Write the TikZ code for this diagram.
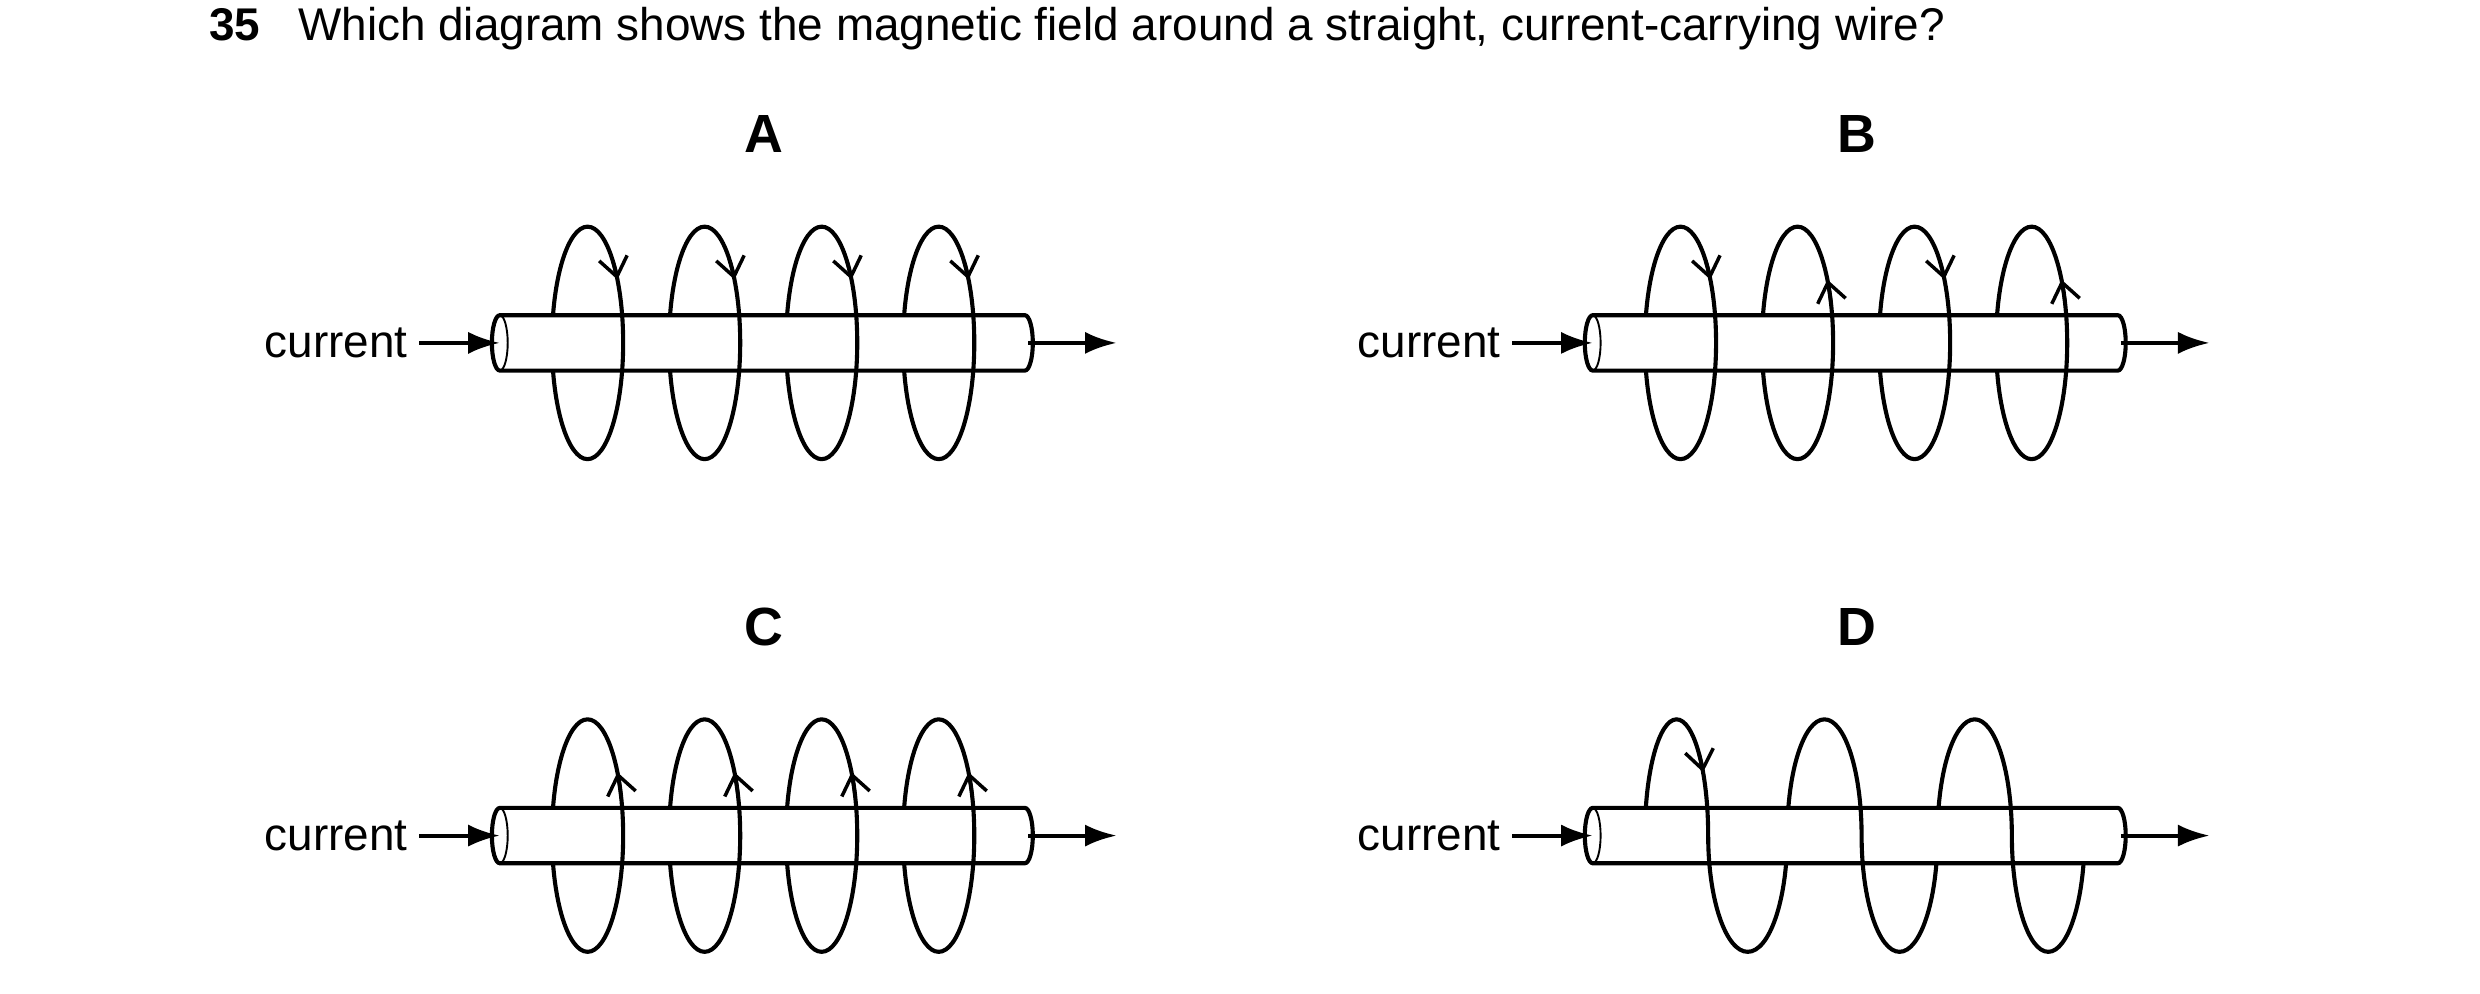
\documentclass[tikz,border=0pt]{standalone}
\usepackage{fontspec}
\setmainfont{Liberation Sans}
\usetikzlibrary{arrows.meta}
\begin{document}
\begin{tikzpicture}[x=0.5pt,y=0.5pt,line width=1.3pt,
  fa/.style={-{Latex[length=10pt,width=7pt]}},
  ba/.style={-{Straight Barb[length=6pt,width=9pt]},line width=1.1pt},
  lbl/.style={font=\fontsize{14.5}{17}\selectfont},
  ttl/.style={font=\bfseries\fontsize{17}{20}\selectfont}]
\useasboundingbox (0,0) rectangle (1568,628.3);
\node[anchor=base west,lbl,inner sep=0] (q) at (131,603) {\textbf{35}\hspace{12pt}Which diagram shows the magnetic field around a straight, current-carrying wire?};
% #1 x0, #2 yc, #3 name, #4 label, #5 arrow dirs (4 entries of 1/-1)
\newcommand\wiredia[5]{%
  \node[ttl] (#3lab) at (#1+167,#2+132) {#4};
  \foreach \d [count=\i from 0] in {#5} {
    \pgfmathsetmacro\cx{#1+55.5+74*\i}
    \draw (\cx,#2) ellipse [x radius=22.5,y radius=73.5];
  }
  \draw[fill=white] (#1,#2+17.5) -- (#1+332,#2+17.5) arc[start angle=90,end angle=-90,x radius=5,y radius=17.5] -- (#1,#2-17.5) arc[start angle=270,end angle=90,x radius=5,y radius=17.5] -- cycle;
  \draw[line width=0.6pt] (#1,#2) ellipse [x radius=5,y radius=17.5];
  \foreach \d [count=\i from 0] in {#5} {
    \pgfmathsetmacro\cx{#1+55.5+74*\i}
    \begin{scope}
      \clip (\cx,#2-18) rectangle (\cx+30,#2+18);
      \draw (\cx,#2) ellipse [x radius=22.5,y radius=73.5];
    \end{scope}
    \pgfmathsetmacro\sa{33+12*\d}
    \draw[ba] (\cx,#2) ++(\sa:22.5 and 73.5) arc[start angle=\sa,end angle=33,x radius=22.5,y radius=73.5];
  }
  \node[lbl,anchor=east,inner sep=0] (#3cur) at (#1-57,#2) {current};
  \coordinate (#3in) at (#1,#2);
  \coordinate (#3a) at (#1-51,#2);
  \coordinate (#3b) at (#1+334,#2);
  \coordinate (#3c) at (#1+390,#2);
  \draw[fa] (#3a) -- (#3in);
  \draw[fa] (#3b) -- (#3c);
}
\wiredia{316}{411.5}{A}{A}{1,1,1,1}
\wiredia{1007}{411.5}{B}{B}{1,-1,1,-1}
\wiredia{316}{100}{C}{C}{-1,-1,-1,-1}
% D
\node[ttl] (Dlab) at (1174,232) {D};
\def\yc{100}
\def\Dpath{(1040,\yc) arc[start angle=180,end angle=0,x radius=20,y radius=73.5]
  arc[start angle=180,end angle=360,x radius=25,y radius=73.5]
  arc[start angle=180,end angle=0,x radius=23.5,y radius=73.5]
  arc[start angle=180,end angle=360,x radius=24,y radius=73.5]
  arc[start angle=180,end angle=0,x radius=23.5,y radius=73.5]
  arc[start angle=180,end angle=360,x radius=23,y radius=73.5]}
\draw \Dpath;
\draw[fill=white] (1007,117.5) -- (1339,117.5) arc[start angle=90,end angle=-90,x radius=5,y radius=17.5] -- (1007,82.5) arc[start angle=270,end angle=90,x radius=5,y radius=17.5] -- cycle;
\draw[line width=0.6pt] (1007,100) ellipse [x radius=5,y radius=17.5];
\begin{scope}
  \clip (1070,82) rectangle (1090,118) (1167,82) rectangle (1187,118) (1262,82) rectangle (1282,118);
  \draw \Dpath;
\end{scope}
\draw[ba] (1060,100) ++(45:20 and 73.5) arc[start angle=45,end angle=33,x radius=20,y radius=73.5];
\node[lbl,anchor=east,inner sep=0] (Dcur) at (950,100) {current};
\coordinate (Din) at (1007,100);
\coordinate (Da) at (956,100);
\coordinate (Db) at (1341,100);
\coordinate (Dc) at (1397,100);
\draw[fa] (Da) -- (Din);
\draw[fa] (Db) -- (Dc);
\end{tikzpicture}
\end{document}
